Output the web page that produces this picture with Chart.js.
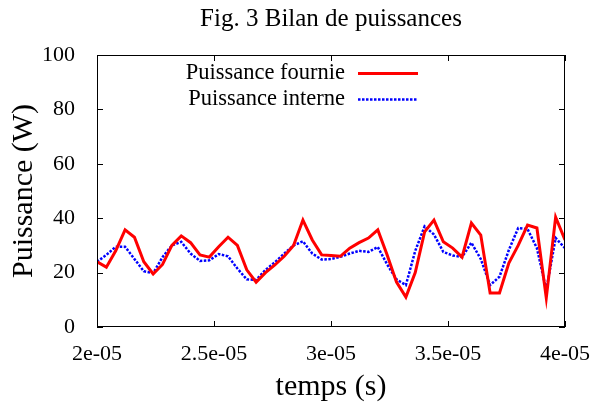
<!DOCTYPE html>
<html>
<head>
<meta charset="utf-8">
<title>Bilan de puissances</title>
<script src="https://cdn.jsdelivr.net/npm/chart.js@4.4.0/dist/chart.umd.min.js"></script>
<style>
  body { margin: 0; background: #fff; }
  #wrap { width: 604px; height: 405px; }
</style>
</head>
<body>
<div id="wrap"><canvas id="bilanChart" width="604" height="405"></canvas></div>
<script>
// --- data ---
const temps = [
  2.00e-5, 2.04e-5, 2.08e-5, 2.12e-5, 2.16e-5, 2.20e-5, 2.24e-5, 2.28e-5, 2.32e-5, 2.36e-5,
  2.40e-5, 2.44e-5, 2.48e-5, 2.52e-5, 2.56e-5, 2.60e-5, 2.64e-5, 2.68e-5, 2.72e-5, 2.76e-5,
  2.80e-5, 2.84e-5, 2.88e-5, 2.92e-5, 2.96e-5, 3.00e-5, 3.04e-5, 3.08e-5, 3.12e-5, 3.16e-5,
  3.20e-5, 3.24e-5, 3.28e-5, 3.32e-5, 3.36e-5, 3.40e-5, 3.44e-5, 3.48e-5, 3.52e-5, 3.56e-5,
  3.60e-5, 3.64e-5, 3.68e-5, 3.72e-5, 3.76e-5, 3.80e-5, 3.84e-5, 3.88e-5, 3.92e-5, 3.96e-5,
  4.00e-5
];
const puissanceFournie = [
  24, 22, 28, 35.7, 33, 24, 19.5, 23, 30, 33.5,
  31, 26.5, 25.7, 29.5, 33, 30, 21, 16.5, 20, 22.8,
  26, 30, 39.3, 32, 26.5, 26.3, 26, 29, 31, 32.7,
  35.7, 26.5, 16.5, 11, 20, 35, 39.3, 31.3, 29, 25.7,
  38.2, 33.8, 12.5, 12.5, 23.5, 30, 37.5, 36.4, 10.7, 40.4,
  32
];
const puissanceInterne = [
  24, 26.5, 29.5, 29.5, 25, 20.5, 19.8, 25.7, 30, 31.3,
  27, 24.3, 24.5, 26.8, 26, 21.5, 17.5, 17.3, 21, 23.8,
  27, 30, 31.5, 27, 24.8, 25, 25.8, 27, 28, 27.6,
  29.4, 23, 17.5, 15.4, 28, 37, 34, 27.6, 26.3, 25.7,
  31, 25, 15.4, 18.5, 28.3, 36.4, 36, 29, 13.6, 32.7,
  29
];
const xTickLabels = ['2e-05', '2.5e-05', '3e-05', '3.5e-05', '4e-05'];
const yTickLabels = ['0', '20', '40', '60', '80', '100'];
const chartTitle = 'Fig. 3 Bilan de puissances';

const SERIF = '"Liberation Serif", "Times New Roman", serif';

// frame + gnuplot style inward ticks on all four sides
const framePlugin = {
  id: 'frame',
  afterDatasetsDraw(chart) {
    const { ctx, chartArea: a, scales } = chart;
    const tl = 6;
    ctx.save();
    ctx.strokeStyle = '#000';
    ctx.lineWidth = 1;
    ctx.strokeRect(a.left + 0.5, a.top + 0.5, a.right - a.left - 1, a.bottom - a.top - 1);
    ctx.beginPath();
    scales.x.ticks.forEach(t => {
      const px = Math.round(scales.x.getPixelForValue(t.value)) + 0.5;
      ctx.moveTo(px, a.bottom); ctx.lineTo(px, a.bottom - tl);
      ctx.moveTo(px, a.top); ctx.lineTo(px, a.top + tl);
    });
    scales.y.ticks.forEach(t => {
      const py = Math.round(scales.y.getPixelForValue(t.value)) + 0.5;
      ctx.moveTo(a.left, py); ctx.lineTo(a.left + tl, py);
      ctx.moveTo(a.right, py); ctx.lineTo(a.right - tl, py);
    });
    ctx.stroke();
    ctx.restore();
  }
};

// title centred over the plot, and the key inside the plot
// (text on the left, line sample on the right, like gnuplot)
const keyPlugin = {
  id: 'key',
  afterDraw(chart) {
    const { ctx, chartArea: a } = chart;
    ctx.save();
    ctx.fillStyle = '#000';
    ctx.font = '25px ' + SERIF;
    ctx.textAlign = 'center';
    ctx.textBaseline = 'middle';
    ctx.fillText(chartTitle, (a.left + a.right) / 2, 19);

    const textRight = 345, lineStart = 358, lineEnd = 418;
    const rows = [73, 99];
    ctx.font = '22.5px ' + SERIF;
    ctx.textAlign = 'right';
    chart.data.datasets.forEach((ds, i) => {
      const y = rows[i];
      ctx.fillStyle = '#000';
      ctx.fillText(ds.label, textRight, y);
      ctx.strokeStyle = ds.borderColor;
      ctx.lineWidth = ds.borderWidth;
      ctx.setLineDash(ds.borderDash || []);
      ctx.beginPath();
      ctx.moveTo(lineStart, y + 0.5);
      ctx.lineTo(lineEnd, y + 0.5);
      ctx.stroke();
    });
    ctx.restore();
  }
};

function renderChart() {
  const ctx = document.getElementById('bilanChart');
  new Chart(ctx, {
    type: 'line',
    data: {
      datasets: [
        {
          label: 'Puissance fournie',
          data: temps.map((t, i) => ({ x: t, y: puissanceFournie[i] })),
          borderColor: '#ff0000',
          borderWidth: 3,
          pointRadius: 0,
          tension: 0
        },
        {
          label: 'Puissance interne',
          data: temps.map((t, i) => ({ x: t, y: puissanceInterne[i] })),
          borderColor: '#0000ff',
          borderWidth: 2.5,
          borderDash: [2.5, 1.5],
          pointRadius: 0,
          tension: 0
        }
      ]
    },
    options: {
      responsive: false,
      animation: false,
      layout: { padding: { left: 0, right: 39, top: 55, bottom: 0 } },
      plugins: {
        legend: { display: false },
        tooltip: { enabled: false },
        title: { display: false }
      },
      scales: {
        x: {
          type: 'linear',
          min: 2e-5,
          max: 4e-5,
          grid: { display: false },
          border: { display: false },
          ticks: {
            stepSize: 5e-6,
            padding: 6,
            color: '#000',
            font: { family: SERIF, size: 22 },
            maxRotation: 0,
            callback: (value, index) => xTickLabels[index]
          },
          title: {
            display: true,
            text: 'temps (s)',
            color: '#000',
            font: { family: SERIF, size: 30 },
            padding: { top: 12, bottom: 0 }
          },
          afterFit: scale => { scale.height = 78; }
        },
        y: {
          min: 0,
          max: 100,
          grid: { display: false },
          border: { display: false },
          ticks: {
            stepSize: 20,
            padding: 14,
            color: '#000',
            font: { family: SERIF, size: 22 },
            callback: (value, index) => yTickLabels[index]
          },
          title: {
            display: true,
            text: 'Puissance (W)',
            color: '#000',
            font: { family: SERIF, size: 30 },
            padding: { top: 6, bottom: 0 }
          },
          afterFit: scale => { scale.width = 97; }
        }
      }
    },
    plugins: [framePlugin, keyPlugin]
  });
}

document.addEventListener('DOMContentLoaded', () => {
  renderChart();
});
</script>
</body>
</html>
